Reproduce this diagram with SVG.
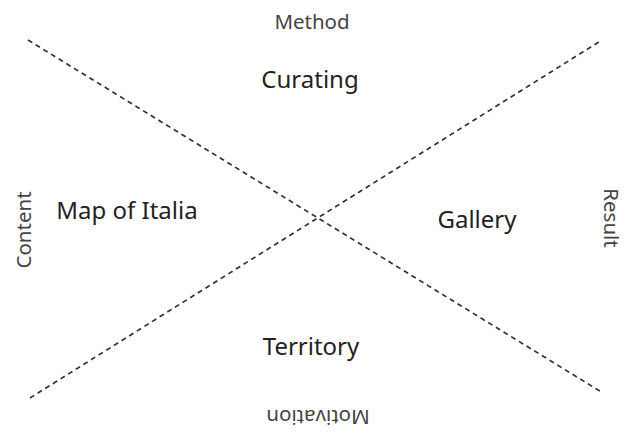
<svg xmlns="http://www.w3.org/2000/svg" width="628" height="434" viewBox="0 0 628 434">
  <style>
    .axis { fill: none; stroke: #333; stroke-width: 1.7; stroke-dasharray: 5 4; }
    .dim { font-family: "Noto Sans", "Open Sans", sans-serif; font-size: 20.5px; fill: #444; text-anchor: middle; }
    .cell { font-family: "Noto Sans", "Open Sans", sans-serif; font-size: 24px; fill: #222; text-anchor: middle; }
  </style>
  <rect width="628" height="434" fill="#fff"/>
  <g id="connectors">
    <line class="axis" x1="28" y1="40" x2="603" y2="393"/>
    <line class="axis" x1="30" y1="398" x2="602" y2="40"/>
  </g>
  <g id="method"><text class="dim" x="312" y="29">Method</text></g>
  <g id="content"><text class="dim" transform="translate(31 230) rotate(-90)">Content</text></g>
  <g id="result"><text class="dim" transform="translate(604 218) rotate(90)">Result</text></g>
  <g id="motivation"><text class="dim" transform="translate(318 410) rotate(180)">Motivation</text></g>
  <g id="curating"><text class="cell" x="310" y="88">Curating</text></g>
  <g id="map-of-italia"><text class="cell" x="127" y="219">Map of Italia</text></g>
  <g id="gallery"><text class="cell" x="477" y="228">Gallery</text></g>
  <g id="territory"><text class="cell" x="311" y="355">Territory</text></g>
</svg>
